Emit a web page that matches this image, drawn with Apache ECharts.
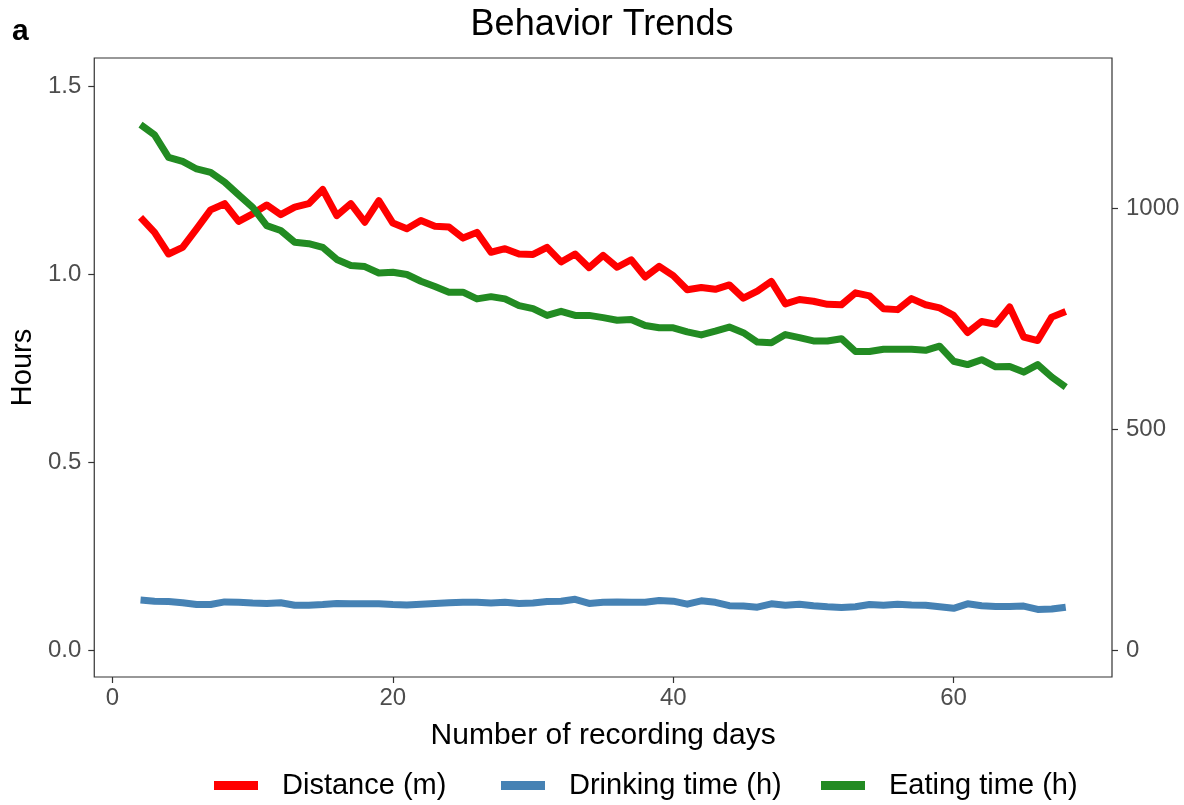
<!DOCTYPE html>
<html>
<head>
<meta charset="utf-8">
<title>Behavior Trends</title>
<script src="https://cdn.jsdelivr.net/npm/echarts@6/dist/echarts.min.js"></script>
<style>
  html, body { margin: 0; padding: 0; background: #ffffff; }
  #chart { width: 1184px; height: 805px; }
</style>
</head>
<body>
<div id="chart"></div>
<script>
// Recording days (x axis)
const days = [2,3,4,5,6,7,8,9,10,11,12,13,14,15,16,17,18,19,20,21,22,23,24,25,26,27,28,29,30,31,32,33,34,35,
  36,37,38,39,40,41,42,43,44,45,46,47,48,49,50,51,52,53,54,55,56,57,58,59,60,61,62,63,64,65,66,67,68];

// Daily distance walked, metres (right axis)
const distance = [980,946,897,912,954,997,1011,971,988,1008,986,1003,1011,1043,984,1011,969,1018,967,954,
  973,960,958,933,946,901,909,897,896,912,879,897,866,894,867,884,845,869,848,816,821,817,827,797,813,835,
  784,794,790,783,782,809,802,773,771,796,782,775,758,719,744,738,777,709,701,754,767];

// Daily drinking time, hours (left axis)
const drinking = [0.133,0.130,0.129,0.126,0.121,0.121,0.128,0.127,0.125,0.124,0.126,0.119,0.119,0.121,0.124,
  0.123,0.123,0.123,0.121,0.120,0.122,0.124,0.126,0.127,0.127,0.125,0.127,0.124,0.125,0.129,0.130,0.135,
  0.124,0.127,0.128,0.127,0.127,0.132,0.130,0.122,0.131,0.127,0.118,0.117,0.114,0.123,0.119,0.122,0.118,
  0.115,0.113,0.115,0.121,0.119,0.122,0.120,0.119,0.115,0.111,0.123,0.118,0.116,0.116,0.117,0.108,0.109,0.114];

// Daily eating time, hours (left axis)
const eating = [1.399,1.372,1.312,1.301,1.281,1.272,1.246,1.212,1.179,1.130,1.117,1.086,1.082,1.072,1.040,
  1.024,1.021,1.004,1.006,1.000,0.982,0.968,0.953,0.953,0.935,0.941,0.935,0.917,0.909,0.891,0.902,0.891,
  0.891,0.885,0.878,0.880,0.864,0.858,0.858,0.847,0.839,0.849,0.860,0.845,0.820,0.818,0.840,0.832,0.823,
  0.823,0.829,0.795,0.795,0.801,0.801,0.801,0.798,0.809,0.769,0.760,0.773,0.754,0.755,0.740,0.760,0.727,0.700];

// Tick positions
const xTicks = [0, 20, 40, 60];
const hourTicks = [0, 0.5, 1.0, 1.5];
const distTicks = [0, 500, 1000];

// Series names and colours
const seriesNames = ['Distance (m)', 'Drinking time (h)', 'Eating time (h)'];
const seriesColors = ['#ff0000', '#4682b4', '#228b22'];

// metres per hour on the secondary scale
const distPerHour = 850.6;
const hourMin = -0.0719, hourMax = 1.5765;

const FONT = '"Liberation Sans", Arial, Helvetica, sans-serif';
const tickColor = '#333333';
const labelColor = '#4d4d4d';

const pairs = vals => days.map((d, i) => [d, vals[i]]);

// one legend block per entry so each key sits at its own spot
const legendLefts = [209, 496, 816];
const legends = seriesNames.map((n, i) => ({
  data: [n], left: legendLefts[i], top: 766,
  icon: 'rect', itemWidth: 44, itemHeight: 9,
  textStyle: { fontSize: 29, color: '#000', fontFamily: FONT, padding: [0, 0, 0, 19] }
}));

const axisTickStyle = { color: tickColor, width: 1.2 };

const chart = echarts.init(document.getElementById('chart'), null, { renderer: 'canvas' });

chart.setOption({
  animation: false,
  backgroundColor: '#ffffff',
  textStyle: { fontFamily: FONT },
  graphic: [
    { type: 'text', left: 12, top: 17, style: { text: 'a', font: 'bold 30px ' + FONT, fill: '#000' } },
    { type: 'text', x: 602, y: 7, style: { text: 'Behavior Trends', font: '36px ' + FONT, fill: '#000', textAlign: 'center', textVerticalAlign: 'top' } }
  ],
  grid: {
    left: 93, right: 72, top: 58, bottom: 128,
    show: true, borderColor: '#333333', borderWidth: 1.2, backgroundColor: 'transparent'
  },
  legend: legends,
  xAxis: {
    type: 'value', min: -1.3, max: 71.3,
    name: 'Number of recording days', nameLocation: 'middle', nameGap: 44,
    nameTextStyle: { fontSize: 30, color: '#000', fontFamily: FONT },
    axisLine: { show: false, onZero: false },
    axisTick: { show: true, length: 6, lineStyle: axisTickStyle, customValues: xTicks },
    axisLabel: { customValues: xTicks, fontSize: 24, color: labelColor, margin: 9, fontFamily: FONT },
    splitLine: { show: false }
  },
  yAxis: [
    {
      type: 'value', min: hourMin, max: hourMax, position: 'left',
      name: 'Hours', nameLocation: 'middle', nameGap: 56, nameRotate: 90,
      nameTextStyle: { fontSize: 29, color: '#000', fontFamily: FONT },
      axisLine: { show: false, onZero: false },
      axisTick: { show: true, length: 6, lineStyle: axisTickStyle, customValues: hourTicks },
      axisLabel: { customValues: hourTicks, fontSize: 24, color: labelColor, margin: 13, fontFamily: FONT,
        formatter: v => v.toFixed(1) },
      splitLine: { show: false }
    },
    {
      type: 'value', min: hourMin * distPerHour, max: hourMax * distPerHour, position: 'right',
      axisLine: { show: false, onZero: false },
      axisTick: { show: true, length: 6, lineStyle: axisTickStyle, customValues: distTicks },
      axisLabel: { customValues: distTicks, fontSize: 24, color: labelColor, margin: 14, fontFamily: FONT,
        formatter: v => String(v) },
      splitLine: { show: false }
    }
  ],
  series: [
    { data: pairs(distance), yAxisIndex: 1 },
    { data: pairs(drinking), yAxisIndex: 0 },
    { data: pairs(eating), yAxisIndex: 0 }
  ].map((s, i) => ({
    name: seriesNames[i], type: 'line', yAxisIndex: s.yAxisIndex, data: s.data,
    showSymbol: false, symbol: 'none', color: seriesColors[i],
    lineStyle: { width: 7, color: seriesColors[i], join: 'round' }
  }))
});
</script>
</body>
</html>
